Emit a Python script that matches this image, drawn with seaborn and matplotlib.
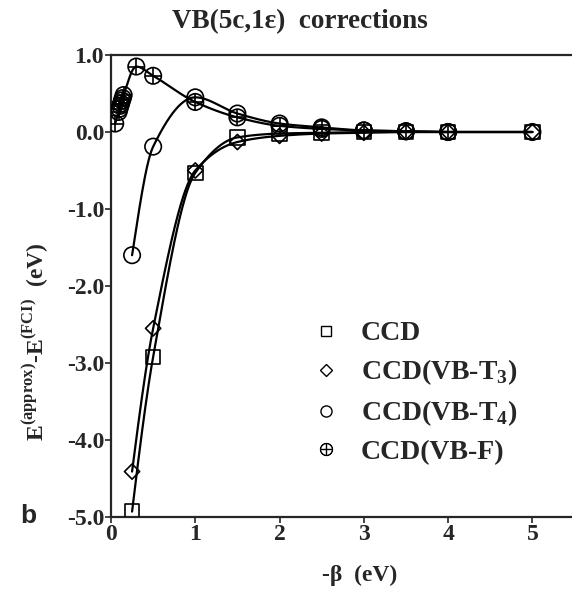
import numpy as np
import pandas as pd
import matplotlib
matplotlib.use("Agg")
import matplotlib.pyplot as plt
import seaborn as sns
from matplotlib.lines import Line2D

# ---- data ----
beta = [0.25, 0.5, 1.0, 1.5, 2.0, 2.5, 3.0, 3.5, 4.0, 5.0]
ccd = [-4.93, -2.92, -0.53, -0.07, -0.02, -0.01, 0.0, 0.0, 0.0, 0.0]
ccd_t3 = [-4.41, -2.55, -0.50, -0.13, -0.05, -0.02, -0.01, 0.0, 0.0, 0.0]
ccd_t4 = [-1.60, -0.19, 0.45, 0.24, 0.11, 0.06, 0.02, 0.01, 0.0, 0.0]
beta_f = [0.05, 0.09, 0.10, 0.11, 0.12, 0.13, 0.14, 0.15, 0.3, 0.5, 1.0, 1.5, 2.0, 2.5, 3.0, 3.5, 4.0]
ccd_f = [0.11, 0.26, 0.30, 0.34, 0.37, 0.41, 0.44, 0.48, 0.85, 0.73, 0.39, 0.19, 0.08, 0.04, 0.02, 0.01, 0.0]
labels = ["CCD", r"CCD(VB-T$_{\mathbf{3}}$)", r"CCD(VB-T$_{\mathbf{4}}$)", "CCD(VB-F)"]
xticks = [0, 1, 2, 3, 4, 5]
yticks = [1.0, 0.0, -1.0, -2.0, -3.0, -4.0, -5.0]


def pchip(x, y, xs):
    x = np.asarray(x, float); y = np.asarray(y, float)
    h = np.diff(x); d = np.diff(y) / h
    n = len(x); m = np.zeros(n)
    for k in range(1, n - 1):
        if d[k - 1] * d[k] > 0:
            w1 = 2 * h[k] + h[k - 1]; w2 = h[k] + 2 * h[k - 1]
            m[k] = (w1 + w2) / (w1 / d[k - 1] + w2 / d[k])
    def end(h0, h1, d0, d1):
        v = ((2 * h0 + h1) * d0 - h0 * d1) / (h0 + h1)
        if np.sign(v) != np.sign(d0):
            v = 0.0
        elif np.sign(d0) != np.sign(d1) and abs(v) > abs(3 * d0):
            v = 3 * d0
        return v
    m[0] = end(h[0], h[1], d[0], d[1])
    m[-1] = end(h[-1], h[-2], d[-1], d[-2])
    idx = np.clip(np.searchsorted(x, xs) - 1, 0, n - 2)
    t = (xs - x[idx]) / h[idx]
    h00 = 2 * t**3 - 3 * t**2 + 1; h10 = t**3 - 2 * t**2 + t
    h01 = -2 * t**3 + 3 * t**2; h11 = t**3 - t**2
    return h00 * y[idx] + h10 * h[idx] * m[idx] + h01 * y[idx + 1] + h11 * h[idx] * m[idx + 1]


sns.set_style("ticks")
plt.rcParams["font.family"] = ["Liberation Serif", "DejaVu Serif"]
plt.rcParams["font.weight"] = "bold"
plt.rcParams["mathtext.fontset"] = "custom"
plt.rcParams["mathtext.rm"] = "Liberation Serif:bold"
plt.rcParams["mathtext.bf"] = "Liberation Serif:bold"

fig = plt.figure(figsize=(5.72, 5.92), dpi=100)
ax = fig.add_axes([111 / 572, 1 - 517 / 592, 1 - 111 / 572, (517 - 55) / 592])

series = [(beta, ccd), (beta, ccd_t3), (beta, ccd_t4), (beta_f, ccd_f)]
for xs_, ys_ in series:
    xx = np.linspace(min(xs_), max(xs_), 600)
    df = pd.DataFrame({"x": xx, "y": pchip(xs_, ys_, xx)})
    sns.lineplot(data=df, x="x", y="y", ax=ax, color="black", lw=1.6, sort=False, zorder=2)

kw = dict(color="none", edgecolor="black", linewidth=1.2, zorder=3, ax=ax)
sns.scatterplot(x=beta, y=ccd, marker="s", s=110, **kw)
sns.scatterplot(x=beta, y=ccd_t3, marker="D", s=60, **kw)
sns.scatterplot(x=beta, y=ccd_t4, marker="o", s=140, **kw)
sns.scatterplot(x=beta_f, y=ccd_f, marker="o", s=140, **kw)
sns.scatterplot(x=beta_f, y=ccd_f, marker="+", s=140, color="black", linewidth=1.2, zorder=4, ax=ax)

ax.set_xlim(0, 5.47)
ax.set_ylim(-5.0, 1.0)
ax.set_xticks(xticks)
ax.set_xticklabels([str(v) for v in xticks], fontsize=17, fontweight="bold")
ax.set_yticks(yticks)
ax.set_yticklabels([f"{v:.1f}" for v in yticks], fontsize=17, fontweight="bold")
ax.tick_params(direction="out", length=4, width=1.2, pad=1)
ax.spines["right"].set_visible(False)
for s in ["left", "top", "bottom"]:
    ax.spines[s].set_linewidth(1.6)
ax.set_xlabel(""); ax.set_ylabel("")

fig.text(300 / 572, 1 - 22 / 592, "VB(5c,1ε)  corrections", ha="center", va="center",
         fontsize=19.5, fontweight="bold")
fig.text(360 / 572, 1 - 575 / 592, "-β  (eV)", ha="center", va="center", fontsize=17, fontweight="bold")
fig.text(36 / 572, 1 - 342 / 592, r"E$^{\mathbf{(approx)}}$-E$^{\mathbf{(FCI)}}$  (eV)", ha="center", va="center",
         rotation=90, fontsize=17, fontweight="bold")
fig.text(20 / 572, 1 - 516 / 592, "b", ha="left", va="center", fontsize=19, fontweight="bold",
         family=["Liberation Sans", "DejaVu Sans"])

handles = [
    Line2D([], [], ls="none", marker="s", ms=7, mfc="none", mec="black", mew=1.0),
    Line2D([], [], ls="none", marker="D", ms=6, mfc="none", mec="black", mew=1.0),
    Line2D([], [], ls="none", marker="o", ms=8, mfc="none", mec="black", mew=1.0),
    Line2D([], [], ls="none", marker=r"$\oplus$", ms=9, mfc="none", mec="black", mew=0.6),
]
leg = ax.legend(handles, labels, loc="upper left", bbox_to_anchor=(312 / 572, 1 - 321 / 592),
                bbox_transform=fig.transFigure, frameon=False, fontsize=20, handlelength=1.0,
                handletextpad=0.75, labelspacing=0.4, borderpad=0, borderaxespad=0)
for t in leg.get_texts():
    t.set_fontweight("bold")

fig.savefig("out.png", dpi=100)
